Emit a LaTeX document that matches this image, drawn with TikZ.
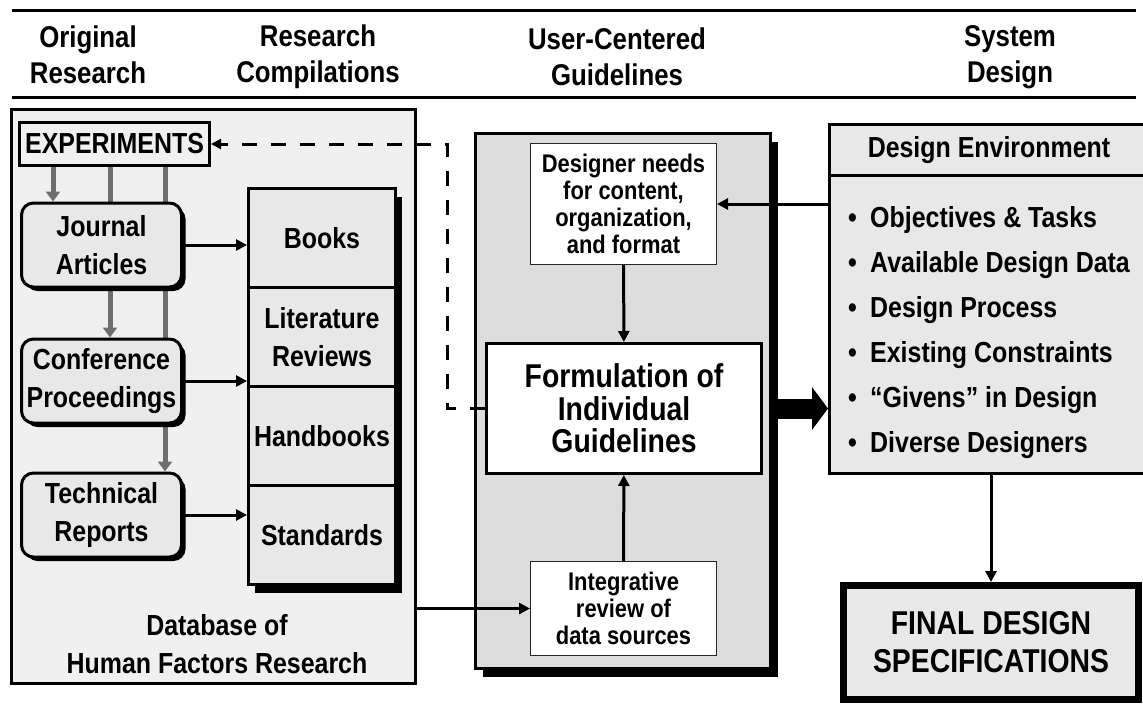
\documentclass[tikz,border=0pt]{standalone}
\usepackage{fontspec}
\setmainfont{Liberation Sans}[FakeStretch=0.86]
\usetikzlibrary{arrows.meta,shadows,positioning}
\definecolor{panelgray}{HTML}{F0F0F0}
\definecolor{boxgray}{HTML}{E8E8E8}
\definecolor{midgray}{HTML}{DCDCDC}
\definecolor{arrowgray}{HTML}{6E6E6E}
\newcommand{\hdrfont}{\fontsize{30}{36}\selectfont\bfseries}
\newcommand{\boxfont}{\fontsize{29}{38}\selectfont\bfseries}
\newcommand{\notefont}{\fontsize{25.5}{27}\selectfont\bfseries}
\newcommand{\bigfont}{\fontsize{33}{32.5}\selectfont\bfseries}
\newcommand{\finalfont}{\fontsize{33}{38}\selectfont\bfseries}
\pgfdeclarelayer{back}
\pgfdeclarelayer{mid}
\pgfsetlayers{back,mid,main}
\begin{document}
\begin{tikzpicture}[x=1pt, y=-1pt,
  hdr/.style={align=center, font=\hdrfont},
  panel/.style={draw, line width=3pt},
  srcbox/.style={draw, line width=3pt, rounded corners=12pt, fill=boxgray, minimum width=160pt, minimum height=84pt, align=center, font=\boxfont, drop shadow={shadow xshift=4pt, shadow yshift=-4pt, fill=black, opacity=1}},
  cellbox/.style={draw, line width=3pt, fill=boxgray, minimum width=147pt, minimum height=99pt, align=center, font=\boxfont, drop shadow={shadow xshift=6pt, shadow yshift=-8pt, fill=black, opacity=1}},
  notebox/.style={draw=black!85, line width=1pt, fill=white, minimum width=186pt, align=center, font=\notefont},
  feed/.style={line width=3pt, -{Triangle[length=11pt, width=11pt]}},
  grayarr/.style={draw=arrowgray, line width=5pt, -{Triangle[length=10pt, width=14pt]}},
  backarr/.style={line width=3pt, dash pattern=on 15pt off 14pt, -{Triangle[length=10pt, width=10pt]}},
  envitem/.style={anchor=base west, font=\boxfont, inner sep=0pt}
]
  \useasboundingbox (0,0) rectangle (1143,704);
  \clip (0,0) rectangle (1143,704);
  % Header rules and column titles
  \draw[line width=3pt] (12,10) -- (1136,10);
  \draw[line width=3pt] (12,97) -- (1136,97);
  \node[hdr] (hOrig) at (88,55) {Original\\Research};
  \node[hdr] (hComp) at (318,57) {Research\\Compilations};
  \node[hdr] (hUser) at (617,57) {User-Centered\\Guidelines};
  \node[hdr] (hSys) at (1010,57) {System\\Design};
  % Database of research
  \begin{pgfonlayer}{back}
    \fill[white] (0,0) rectangle (1143,704);
    \node[panel, fill=panelgray, minimum width=404pt, minimum height=574pt] (db) at (213.5,396.5) {};
  \end{pgfonlayer}
  \node[font=\boxfont, align=center, text depth=0pt] (dbLabel) at (217,644) {Database of\\Human Factors Research};
  \node[panel, fill=panelgray, minimum width=190pt, minimum height=43pt, inner sep=2pt, font=\boxfont] (exp) at (114.5,144) {EXPERIMENTS};
  \node[srcbox] (jour) at (101.5,245) {Journal\\Articles};
  \node[srcbox] (conf) at (101.5,381) {Conference\\Proceedings};
  \node[srcbox] (tech) at (101.5,515) {Technical\\Reports};
  % Compilations
  \node[cellbox] (books) at (322,238) {Books};
  \node[cellbox, below=-3pt of books] (lit) {Literature\\Reviews};
  \node[cellbox, below=-3pt of lit] (hand) {Handbooks};
  \node[cellbox, below=-3pt of hand] (std) {Standards};
  % Gray flow out of experiments
  \coordinate (g1) at (53,0);
  \coordinate (g2) at (110,0);
  \coordinate (g3) at (165,0);
  \begin{pgfonlayer}{mid}
    \draw[grayarr] (exp.south -| g1) -- (jour.north -| g1);
    \draw[grayarr] (exp.south -| g2) -- (conf.north -| g2);
    \draw[grayarr] (exp.south -| g3) -- (tech.north -| g3);
  \end{pgfonlayer}
  \draw[feed] (jour.east) -- (jour.east -| books.west);
  \draw[feed] (conf.east) -- (conf.east -| lit.west);
  \draw[feed] (tech.east) -- (tech.east -| std.west);
  % Guidelines panel
  \node[panel, fill=midgray, minimum width=295pt, minimum height=535pt, drop shadow={shadow xshift=7pt, shadow yshift=-8pt, fill=black, opacity=1}] (guide) at (623,401) {};
  \node[notebox, minimum height=121pt] (need) at (623.5,204) {Designer needs\\for content,\\organization,\\and format};
  \node[panel, fill=white, minimum width=275pt, minimum height=130pt, align=center, font=\bigfont] (form) at (624,408.5) {Formulation of\\Individual\\Guidelines};
  \node[notebox, minimum height=94pt] (integ) at (623.5,608.5) {Integrative\\review of\\data sources};
  \draw[feed] (need) -- (form);
  \draw[feed] (integ) -- (form);
  \draw[feed] (db.east |- integ.west) -- (integ.west);
  \draw[backarr] (form.west) -- ++(-38,0) |- (exp.east);
  % Design environment
  \node[panel, fill=boxgray, minimum width=319pt, minimum height=51pt, font=\boxfont] (envhead) at (989,150) {Design Environment};
  \node[panel, fill=boxgray, minimum width=319pt, minimum height=298pt, below=-3pt of envhead] (envbody) {};
  \foreach \txt [count=\i] in {Objectives \& Tasks, Available Design Data, Design Process, Existing Constraints, “Givens” in Design, Diverse Designers}
    \node[envitem] (env\i) at (848,182+45*\i) {\makebox[22pt][l]{\textbullet}\txt};
  \draw[feed] (envbody.west |- need.east) -- (need.east);
  \draw[line width=20pt, -{Triangle[length=16pt, width=42pt]}] (guide.east |- form.east) -- (envbody.west |- form.east);
  % Final output
  \node[draw, line width=7pt, fill=boxgray, minimum width=295pt, minimum height=114pt, align=center, font=\finalfont] (final) at (991,642.5) {FINAL DESIGN\\SPECIFICATIONS};
  \draw[feed] (envbody.south -| final.north) -- (final.north);
\end{tikzpicture}
\end{document}
